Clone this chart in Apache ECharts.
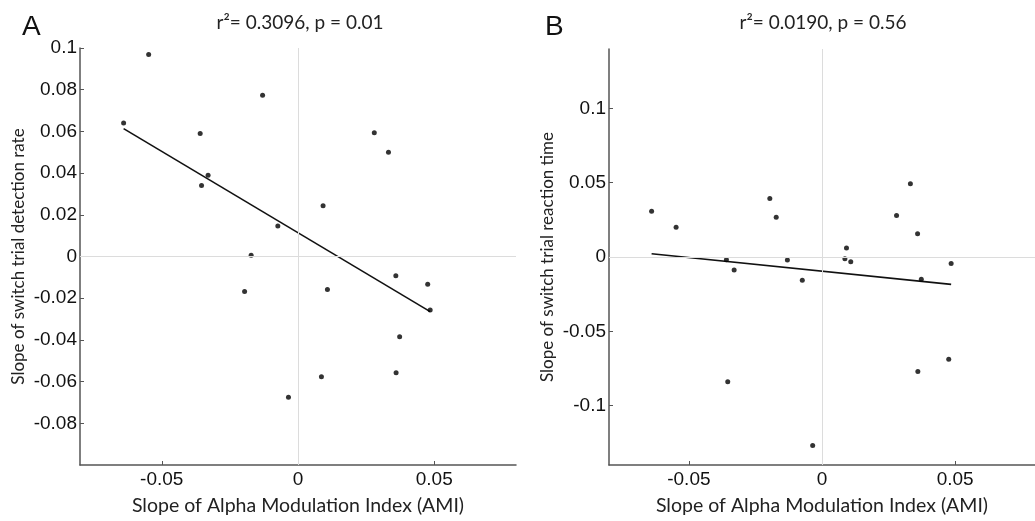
<!DOCTYPE html>
<html>
<head>
<meta charset="utf-8">
<script src="https://cdn.jsdelivr.net/npm/echarts@6/dist/echarts.min.js"></script>
<style>
  html, body { margin: 0; padding: 0; background: #fff; }
  #chart { width: 1035px; height: 521px; }
</style>
</head>
<body>
<div id="chart"></div>
<script>
// Per-participant slope of the alpha modulation index (x for both panels)
const amiSlope = [
  -0.0640, -0.0548, -0.0130, -0.0359, -0.0354, -0.0330, -0.0074, -0.0172, 0.0280, 0.0332,
   0.0092, -0.0196,  0.0108,  0.0359,  0.0476,  0.0485,  0.0373,  0.0360, 0.0086, -0.0035
];
// Panel A: slope of switch trial detection rate
const detectionSlope = [
   0.0640,  0.0969,  0.0773,  0.0590,  0.0341,  0.0390,  0.0146,  0.0006, 0.0593, 0.0500,
   0.0243, -0.0168, -0.0158, -0.0092, -0.0133, -0.0257, -0.0385, -0.0557, -0.0577, -0.0675
];
// Panel B: slope of switch trial reaction time
const reactionSlope = [
   0.0308,  0.0200, -0.0021, -0.0019, -0.0840, -0.0087, -0.0156,  0.0268, 0.0279, 0.0493,
   0.0061,  0.0394, -0.0032,  0.0156, -0.0688, -0.0043, -0.0149, -0.0770, -0.0012, -0.1268
];

const xTickValues = [-0.05, 0, 0.05];
const yTickValuesB = [-0.1, -0.05, 0, 0.05, 0.1];
const panelLetters = ['A', 'B'];
const panelStats = ['r\u00b2= 0.3096, p = 0.01', 'r\u00b2= 0.0190, p = 0.56'];
const yAxisNames = ['Slope of switch trial detection rate', 'Slope of switch trial reaction time'];
const xAxisName = 'Slope of Alpha Modulation Index (AMI)';

// Least-squares line across the observed x range
function fitLine(xs, ys) {
  const n = xs.length;
  const mx = xs.reduce((a, b) => a + b, 0) / n;
  const my = ys.reduce((a, b) => a + b, 0) / n;
  let sxy = 0, sxx = 0;
  for (let i = 0; i < n; i++) {
    sxy += (xs[i] - mx) * (ys[i] - my);
    sxx += (xs[i] - mx) * (xs[i] - mx);
  }
  const slope = sxy / sxx;
  const icpt = my - slope * mx;
  const lo = Math.min(...xs), hi = Math.max(...xs);
  return [[lo, icpt + slope * lo], [hi, icpt + slope * hi]];
}

const pairs = ys => amiSlope.map((x, i) => [x, ys[i]]);

const tickFont = { fontFamily: 'Liberation Sans, Arial, sans-serif', fontSize: 19, color: '#111' };
const xNameFont = { fontFamily: 'Lato, sans-serif', fontSize: 19.5, color: '#222' };
const yNameFont = { fontFamily: 'Lato, sans-serif', fontSize: 17, color: '#222' };
const axisColor = '#555';

function xAxisFor(gridIndex) {
  return {
    type: 'value', gridIndex, min: -0.08, max: 0.08,
    axisLine: { show: true, onZero: false, lineStyle: { color: axisColor, width: 1.5 } },
    axisTick: { show: true, inside: true, length: 4, customValues: xTickValues, lineStyle: { color: axisColor } },
    axisLabel: Object.assign({ customValues: xTickValues, margin: 5 }, tickFont),
    splitLine: { show: false },
    name: xAxisName, nameLocation: 'middle', nameGap: 31, nameTextStyle: xNameFont
  };
}

const yAxisA = {
  type: 'value', gridIndex: 0, min: -0.1, max: 0.1, interval: 0.02,
  axisLine: { show: true, onZero: false, lineStyle: { color: axisColor, width: 1.5 } },
  axisTick: { show: true, inside: true, length: 4, lineStyle: { color: axisColor } },
  axisLabel: Object.assign({ margin: 3, showMinLabel: false }, tickFont),
  splitLine: { show: false },
  name: yAxisNames[0], nameLocation: 'middle', nameGap: 53, nameTextStyle: yNameFont
};

const yAxisB = {
  type: 'value', gridIndex: 1, min: -0.14, max: 0.14,
  axisLine: { show: true, onZero: false, lineStyle: { color: axisColor, width: 1.5 } },
  axisTick: { show: true, inside: true, length: 4, customValues: yTickValuesB, lineStyle: { color: axisColor } },
  axisLabel: Object.assign({ margin: 3, customValues: yTickValuesB }, tickFont),
  splitLine: { show: false },
  name: yAxisNames[1], nameLocation: 'middle', nameGap: 53, nameTextStyle: yNameFont
};

function zeroLines(i) {
  return {
    type: 'scatter', xAxisIndex: i, yAxisIndex: i, data: [], z: 1, silent: true,
    markLine: {
      silent: true, symbol: 'none', label: { show: false }, animation: false,
      lineStyle: { color: '#dcdcdc', width: 1, type: 'solid' },
      data: [{ xAxis: 0 }, { yAxis: 0 }]
    }
  };
}

function fitSeries(i, ys) {
  return {
    type: 'line', xAxisIndex: i, yAxisIndex: i, data: fitLine(amiSlope, ys), z: 2,
    symbol: 'none', silent: true, lineStyle: { color: '#111', width: 1.6 }
  };
}

function dotSeries(i, ys) {
  return {
    type: 'scatter', xAxisIndex: i, yAxisIndex: i, data: pairs(ys), z: 3,
    symbol: 'circle', symbolSize: 5, itemStyle: { color: '#000' }
  };
}

const letterStyle = { fontFamily: 'Liberation Sans, Arial, sans-serif', fontSize: 28, fontWeight: 'normal', color: '#111' };
const statStyle = { fontFamily: 'Lato, sans-serif', fontSize: 19, fontWeight: 'normal', color: '#222' };

const chart = echarts.init(document.getElementById('chart'), null, { renderer: 'canvas' });
chart.setOption({
  animation: false,
  backgroundColor: '#fff',
  title: [
    { text: panelLetters[0], left: 17, top: 8, textStyle: letterStyle },
    { text: panelLetters[1], left: 540, top: 8, textStyle: letterStyle },
    { text: panelStats[0], left: 295, top: 8, textAlign: 'center', textStyle: statStyle },
    { text: panelStats[1], left: 818, top: 8, textAlign: 'center', textStyle: statStyle }
  ],
  grid: [
    { left: 80, top: 48, width: 436, height: 424 },
    { left: 609, top: 49, width: 437, height: 423 }
  ],
  xAxis: [xAxisFor(0), xAxisFor(1)],
  yAxis: [yAxisA, yAxisB],
  series: [
    zeroLines(0), fitSeries(0, detectionSlope), dotSeries(0, detectionSlope),
    zeroLines(1), fitSeries(1, reactionSlope), dotSeries(1, reactionSlope)
  ]
});
</script>
</body>
</html>
